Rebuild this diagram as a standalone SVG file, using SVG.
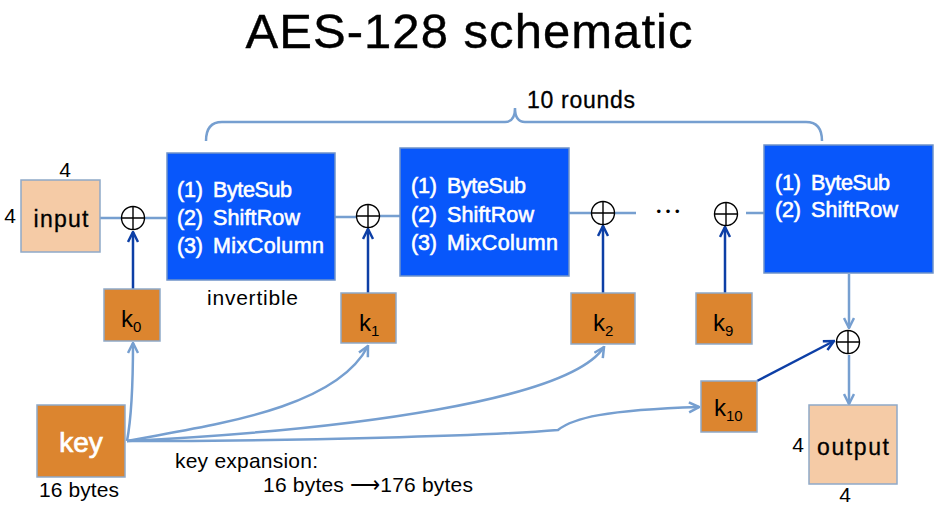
<svg xmlns="http://www.w3.org/2000/svg" width="943" height="506" viewBox="0 0 943 506">
<defs>
<style>
text{font-family:"Liberation Sans",Arial,sans-serif;fill:#000}
.t{font-size:21px}
.w{fill:#fff;font-size:21.5px;stroke:#fff;stroke-width:0.6px}
.rb{fill:#0857FB;stroke:#6F93C9;stroke-width:1.5}
.ko{fill:#DC852F;stroke:#8FA9C8;stroke-width:1.5}
.pe{fill:#F5CBA6;stroke:#8FA9C8;stroke-width:1.5}
.lb{fill:none;stroke:#769FD0;stroke-width:2.5}
.db{fill:none;stroke:#0D3FA6;stroke-width:2.5}
.x{fill:#fff;stroke:#000;stroke-width:1.4}
</style>
<marker id="al" viewBox="0 0 10 10" refX="9" refY="5" markerWidth="5" markerHeight="5" orient="auto" markerUnits="strokeWidth">
<path d="M1,1 L9,5 L1,9" fill="none" stroke="#769FD0" stroke-width="2"/>
</marker>
<marker id="ad" viewBox="0 0 10 10" refX="9" refY="5" markerWidth="5" markerHeight="5" orient="auto" markerUnits="strokeWidth">
<path d="M1,1 L9,5 L1,9" fill="none" stroke="#0D3FA6" stroke-width="2"/>
</marker>
<g id="xor">
<circle r="11.5" class="x"/>
<path d="M-11.5,0 H11.5 M0,-11.5 V11.5" stroke="#000" stroke-width="1.4"/>
</g>
</defs>
<rect width="943" height="506" fill="#fff"/>

<text x="469" y="48" font-size="49" text-anchor="middle" textLength="447" stroke="#000" stroke-width="0.4">AES-128 schematic</text>

<g id="connectors">
<path class="lb" d="M100,218 H121.5 M144.5,218 H167 M335,217 H356.5 M379.5,216 H400 M569,213 H591.5 M614.5,213 H636 M746,213 H764"/>
<path class="db" marker-end="url(#ad)" d="M133,289 V232"/>
<path class="db" marker-end="url(#ad)" d="M368,293 V229"/>
<path class="db" marker-end="url(#ad)" d="M603,293 V226"/>
<path class="db" marker-end="url(#ad)" d="M725,293 V227"/>
<path class="db" marker-end="url(#ad)" d="M757,381 L834,341"/>
<path class="lb" marker-end="url(#al)" d="M849,274 V328"/>
<path class="lb" marker-end="url(#al)" d="M849,355 V404"/>
<path class="lb" marker-end="url(#al)" d="M127,441 C131,420 133,380 133,343"/>
<path class="lb" marker-end="url(#al)" d="M127,441 C210,425 335,410 368,346"/>
<path class="lb" marker-end="url(#al)" d="M127,441 C350,430 570,400 604,347"/>
<path class="lb" marker-end="url(#al)" d="M127,441 C300,441 485,436 558,430 C573,418 605,410 699,407"/>
<path class="lb" d="M206,141 Q206,122 222,122 H505 Q515,122 515,108 Q515,122 525,122 H806 Q822,122 822,141"/>
</g>

<g id="n-title-rounds"><text x="527" y="108" font-size="23" textLength="108" stroke="#000" stroke-width="0.3">10 rounds</text></g>

<g id="n-input">
<rect class="pe" x="21" y="180" width="79" height="72"/>
<text x="61" y="227" font-size="23" text-anchor="middle" textLength="55" stroke="#000" stroke-width="0.3">input</text>
<text x="65" y="177" class="t" text-anchor="middle">4</text>
<text x="10" y="223" class="t" text-anchor="middle">4</text>
</g>

<g id="n-xor1"><use href="#xor" x="133" y="218"/></g>
<g id="n-xor2"><use href="#xor" x="368" y="216"/></g>
<g id="n-xor3"><use href="#xor" x="603" y="213"/></g>
<g id="n-dots"><text x="668" y="216" font-size="13" text-anchor="middle" textLength="23">•••</text></g>
<g id="n-xor9"><use href="#xor" x="726" y="214"/></g>
<g id="n-xor10"><use href="#xor" x="848" y="342"/></g>

<g id="n-round1">
<rect class="rb" x="167" y="153" width="168" height="127"/>
<text class="w" x="177" y="197" textLength="26">(1)</text><text class="w" x="213" y="197" textLength="79">ByteSub</text>
<text class="w" x="177" y="225" textLength="26">(2)</text><text class="w" x="213" y="225" textLength="87">ShiftRow</text>
<text class="w" x="177" y="253" textLength="26">(3)</text><text class="w" x="213" y="253" textLength="111">MixColumn</text>
</g>
<g id="n-invertible"><text x="207" y="305" font-size="21" textLength="91">invertible</text></g>

<g id="n-round2">
<rect class="rb" x="400" y="148" width="169" height="128"/>
<text class="w" x="411" y="193" textLength="26">(1)</text><text class="w" x="447" y="193" textLength="79">ByteSub</text>
<text class="w" x="411" y="222" textLength="26">(2)</text><text class="w" x="447" y="222" textLength="87">ShiftRow</text>
<text class="w" x="411" y="250" textLength="26">(3)</text><text class="w" x="447" y="250" textLength="111">MixColumn</text>
</g>

<g id="n-round10">
<rect class="rb" x="764" y="145" width="169" height="128"/>
<text class="w" x="775" y="190" textLength="26">(1)</text><text class="w" x="811" y="190" textLength="79">ByteSub</text>
<text class="w" x="775" y="217" textLength="26">(2)</text><text class="w" x="811" y="217" textLength="87">ShiftRow</text>
</g>

<g id="n-k0"><rect class="ko" x="104" y="289" width="56" height="52"/>
<text x="121" y="327" font-size="24">k<tspan font-size="15" dy="5">0</tspan></text></g>
<g id="n-k1"><rect class="ko" x="341" y="293" width="55" height="50"/>
<text x="359" y="331" font-size="24">k<tspan font-size="15" dy="5">1</tspan></text></g>
<g id="n-k2"><rect class="ko" x="571" y="293" width="64" height="51"/>
<text x="593" y="331" font-size="24">k<tspan font-size="15" dy="5">2</tspan></text></g>
<g id="n-k9"><rect class="ko" x="696" y="293" width="56" height="51"/>
<text x="713" y="331" font-size="24">k<tspan font-size="15" dy="5">9</tspan></text></g>
<g id="n-k10"><rect class="ko" x="701" y="381" width="56" height="51"/>
<text x="714" y="416" font-size="24">k<tspan font-size="15" dy="5">10</tspan></text></g>

<g id="n-key"><rect class="ko" x="37" y="405" width="88" height="72"/>
<text x="81" y="452" font-size="28" style="fill:#fff" stroke="#fff" stroke-width="0.7" text-anchor="middle">key</text>
<text x="39" y="497" font-size="21" textLength="80">16 bytes</text></g>

<g id="n-expansion">
<text x="175" y="468" font-size="21" textLength="143">key expansion:</text>
<text x="263" y="492" font-size="21" textLength="210">16 bytes ⟶176 bytes</text>
</g>

<g id="n-output"><rect class="pe" x="809" y="405" width="88" height="79"/>
<text x="817" y="455" font-size="23" textLength="72" stroke="#000" stroke-width="0.3">output</text>
<text x="798" y="452" class="t" text-anchor="middle">4</text>
<text x="845" y="502" class="t" text-anchor="middle">4</text></g>
</svg>
